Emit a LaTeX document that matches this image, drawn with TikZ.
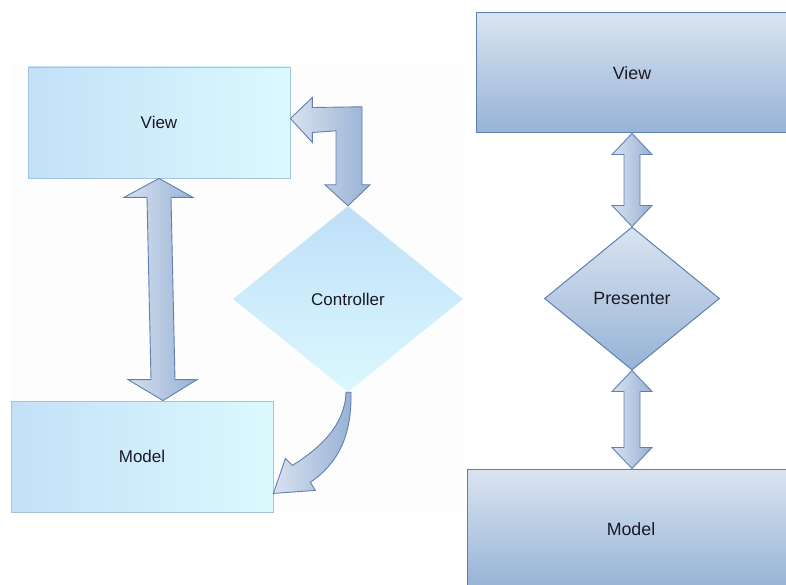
\documentclass[tikz,border=0pt]{standalone}
\usepackage{fontspec}
\setmainfont{Liberation Sans}
\usetikzlibrary{shapes.geometric,calc}
\definecolor{lboxL}{HTML}{C4E0F8}
\definecolor{lboxR}{HTML}{DCF9FE}
\definecolor{lboxB}{HTML}{A3C4DE}
\definecolor{rboxT}{HTML}{DAE4F0}
\definecolor{rboxB}{HTML}{96B2D6}
\definecolor{rboxD}{HTML}{5B80B2}
\definecolor{arrL}{HTML}{D8E2EF}
\definecolor{arrR}{HTML}{97B1D5}
\definecolor{arrD}{HTML}{5F80B0}
\definecolor{ctT}{HTML}{BEDFF8}
\definecolor{ctB}{HTML}{DCF8FE}
\definecolor{txt}{HTML}{1A1A26}
\definecolor{panel}{HTML}{FDFDFD}
\newcommand\vdarrow[5]{% #1 top tip, #2 bottom tip, #3 shaft half width, #4 head half width, #5 head length
  \path[blockarrow] (#1) -- ($(#1)+(#4,#5)$) -- ($(#1)+(#3,#5)$) -- ($(#2)+(#3,-#5)$) -- ($(#2)+(#4,-#5)$) -- (#2)
    -- ($(#2)+(-#4,-#5)$) -- ($(#2)+(-#3,-#5)$) -- ($(#1)+(-#3,#5)$) -- ($(#1)+(-#4,#5)$) -- cycle;}
\begin{document}
\begin{tikzpicture}[x=1pt,y=-1pt,
  lbox/.style={rectangle, draw=lboxB, line width=0.8pt, left color=lboxL, right color=lboxR,
    inner sep=0pt, minimum width=262, minimum height=111, font=\fontsize{17}{20}\selectfont, text=txt},
  rbox/.style={rectangle, draw=rboxD, line width=1pt, top color=rboxT, bottom color=rboxB,
    inner sep=0pt, font=\fontsize{17.8}{21}\selectfont, text=txt},
  ctrl/.style={diamond, draw=none, top color=ctT, bottom color=ctB, inner sep=0pt,
    minimum width=230, minimum height=186, font=\fontsize{17}{20}\selectfont, text=txt},
  pres/.style={diamond, draw=rboxD, line width=1pt, top color=rboxT, bottom color=rboxB, inner sep=0pt,
    minimum width=175, minimum height=143, font=\fontsize{17.8}{21}\selectfont, text=txt},
  blockarrow/.style={draw=arrD, line width=0.9pt, left color=arrL, right color=arrR, line join=miter}
]
\clip (0,0) rectangle (786,585);
\fill[white] (0,0) rectangle (786,585);
\fill[panel] (10,65) rectangle (464,512);

% left (MVC)
\node[lbox] (lv) at (159,122.5) {View};
\node[lbox] (lm) at (142,456.5) {Model};
\node[ctrl] (ct) at (348,299) {Controller};

% right (MVP)
\node[rbox, minimum width=312, minimum height=120] (rv) at (632,73) {View};
\node[pres] (pr) at (632,298.5) {Presenter};
\node[rbox, minimum width=328, minimum height=121] (rm) at (631,529.5) {Model};

% View <-> Model (left)
\coordinate (vt) at (lv.south);
\coordinate (vb) at ($(lm.north)+(21,0)$);
\path[blockarrow] (vt) -- ($(vt)+(34,19)$) -- ($(vt)+(12,19)$) -- ($(vb)+(12,-21)$) -- ($(vb)+(34,-21)$) -- (vb)
  -- ($(vb)+(-35,-21)$) -- ($(vb)+(-12,-21)$) -- ($(vt)+(-12,19)$) -- ($(vt)+(-35,19)$) -- cycle;

% View <-> Controller (elbow)
\coordinate (e1) at ($(lv.east)+(0,-4)$);
\coordinate (e2) at (ct.north);
\path[blockarrow] (e1) -- ($(e1)+(22,-21)$) -- ($(e1)+(22,-11)$) -- ($(e2)+(14,-99)$) -- ($(e2)+(14,-21)$)
  -- ($(e2)+(22,-21)$) -- (e2) -- ($(e2)+(-23,-21)$) -- ($(e2)+(-12,-21)$) -- ($(e2)+(-12,-75)$)
  -- ($(e1)+(22,14)$) -- ($(e1)+(22,24)$) -- cycle;

% Controller -> Model (curved)
\coordinate (cs) at (ct.south);
\coordinate (ce) at ($(lm.south east)+(0,-19)$);
\path[blockarrow] ($(cs)+(3,0)$) .. controls ($(cs)+(4,48)$) and ($(cs)+(-13,73)$) .. ($(ce)+(37,-11)$)
  -- ($(ce)+(42,-3)$) -- (ce) -- ($(ce)+(12,-35)$) -- ($(ce)+(19,-28)$)
  .. controls ($(cs)+(-28,56)$) and ($(cs)+(-3,33)$) .. ($(cs)+(-2,0)$) -- cycle;

% right arrows
\coordinate (p1) at (pr.north |- rv.south);
\vdarrow{p1}{pr.north}{8}{20}{21}
\coordinate (p2) at (pr.south |- rm.north);
\vdarrow{pr.south}{p2}{8}{20}{21}
\end{tikzpicture}
\end{document}
